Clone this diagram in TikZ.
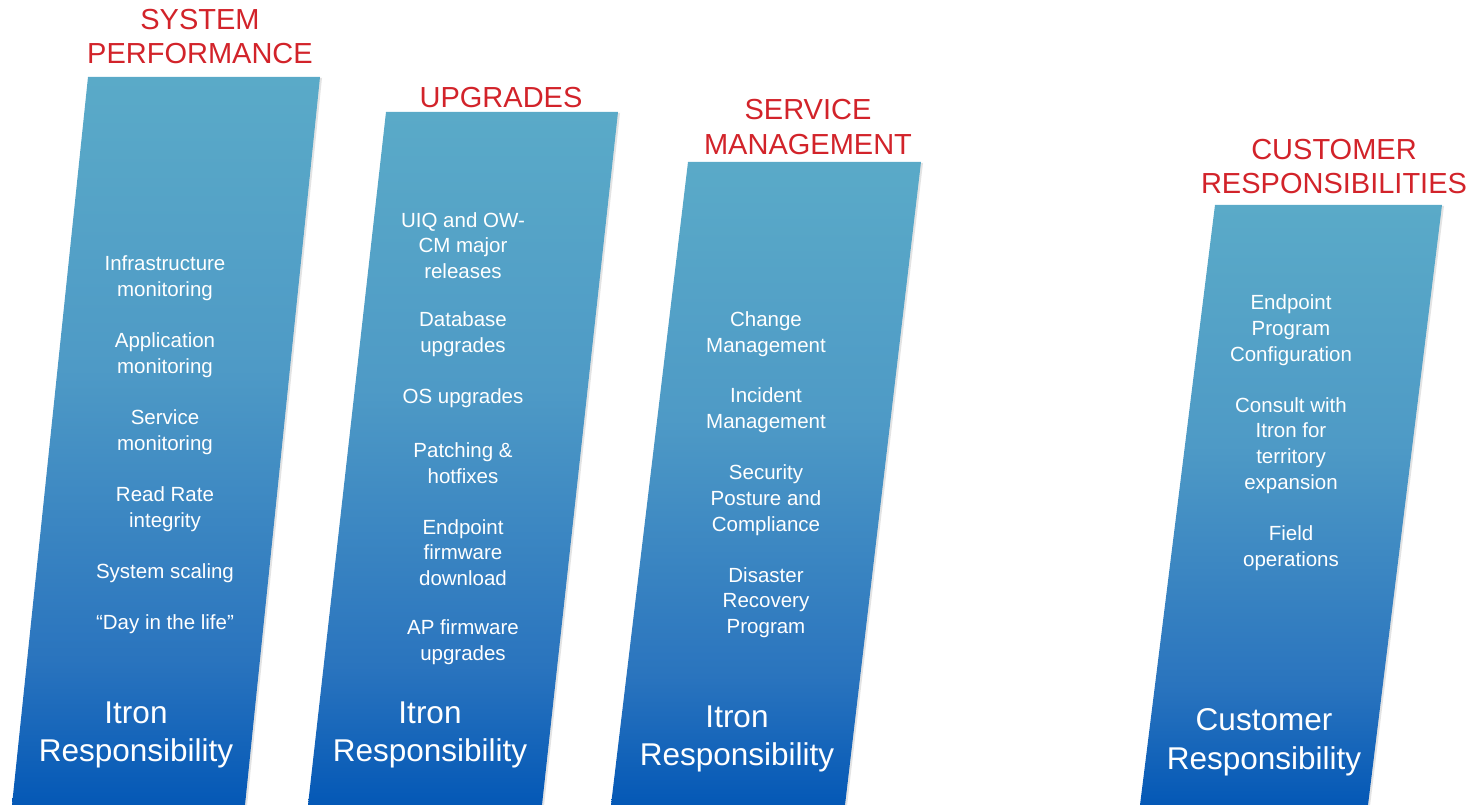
\documentclass[tikz,border=0pt]{standalone}
\usepackage{fontspec}
\setmainfont{Liberation Sans}
\usetikzlibrary{shadows}

\definecolor{titlered}{RGB}{210,35,42}
\definecolor{ptop}{RGB}{90,170,200}
\definecolor{pmidA}{RGB}{78,154,198}
\definecolor{pmidB}{RGB}{42,116,190}
\definecolor{pbot}{RGB}{4,88,182}

% vertical fill of the columns, bottom to top
\pgfdeclareverticalshading{columnshade}{100bp}{%
  color(0bp)=(pbot); color(25bp)=(pbot); color(35bp)=(pmidB);
  color(55bp)=(pmidA); color(75bp)=(ptop); color(100bp)=(ptop)}

\tikzset{
  column/.style={shading=columnshade, draw=none,
    drop shadow={shadow xshift=2pt, shadow yshift=-1pt, opacity=0.18, fill=black!60}},
  heading/.style={text=titlered, align=center, font=\fontsize{29}{34.5}\selectfont},
  item/.style={text=white, align=center, font=\fontsize{20.5}{25.8}\selectfont, inner sep=0pt},
  owner/.style={text=white, align=center, font=\fontsize{31.5}{38.5}\selectfont, inner sep=0pt}
}

\begin{document}
\begin{tikzpicture}[x=1pt,y=-1pt]
\useasboundingbox (0,0) rectangle (1477,805);
\begin{scope}
\clip (0,0) rectangle (1477,805);

% slanted columns
\path[column] (88,77) -- (320,77) -- (245,805) -- (12,805) -- cycle;
\path[column] (386,112) -- (618,112) -- (542,805) -- (308,805) -- cycle;
\path[column] (688,162) -- (921,162) -- (845,805) -- (611,805) -- cycle;
\path[column] (1215,205) -- (1442,205) -- (1368,805) -- (1140,805) -- cycle;
\end{scope}

% headings
\node[heading] (h1) at (200,36.5) {SYSTEM\\PERFORMANCE};
\node[heading] (h2) at (501,97.5) {UPGRADES};
\node[heading] (h3) at (808,127) {SERVICE\\MANAGEMENT};
\node[heading] (h4) at (1334,166.5) {CUSTOMER\\RESPONSIBILITIES};

% system performance
\node[item] (a1) at (165,278.5) {Infrastructure\\monitoring};
\node[item] (a2) at (165,355.5) {Application\\monitoring};
\node[item] (a3) at (165,432.5) {Service\\monitoring};
\node[item] (a4) at (165,509.5) {Read Rate\\integrity};
\node[item] (a5) at (165,573.5) {System scaling};
\node[item] (a6) at (165,624.5) {“Day in the life”};
\node[owner] (o1) at (136,735) {Itron\\Responsibility};

% upgrades
\node[item] (b1) at (463,245.5) {UIQ and OW-\\CM major\\releases};
\node[item] (b2) at (463,334.5) {Database\\upgrades};
\node[item] (b3) at (463,398.5) {OS upgrades};
\node[item] (b4) at (463,463) {Patching \&\\hotfixes};
\node[item] (b5) at (463,552.5) {Endpoint\\firmware\\download};
\node[item] (b6) at (463,642) {AP firmware\\upgrades};
\node[owner] (o2) at (430,735) {Itron\\Responsibility};

% service management
\node[item] (c1) at (766,334) {Change\\Management};
\node[item] (c2) at (766,410.5) {Incident\\Management};
\node[item] (c3) at (766,500) {Security\\Posture and\\Compliance};
\node[item] (c4) at (766,602.5) {Disaster\\Recovery\\Program};
\node[owner] (o3) at (737,739) {Itron\\Responsibility};

% customer responsibilities
\node[item] (d1) at (1291,330) {Endpoint\\Program\\Configuration};
\node[item] (d2) at (1291,445.5) {Consult with\\Itron for\\territory\\expansion};
\node[item] (d3) at (1291,548.5) {Field\\operations};
\node[owner] (o4) at (1264,742.5) {Customer\\Responsibility};
\end{tikzpicture}
\end{document}
